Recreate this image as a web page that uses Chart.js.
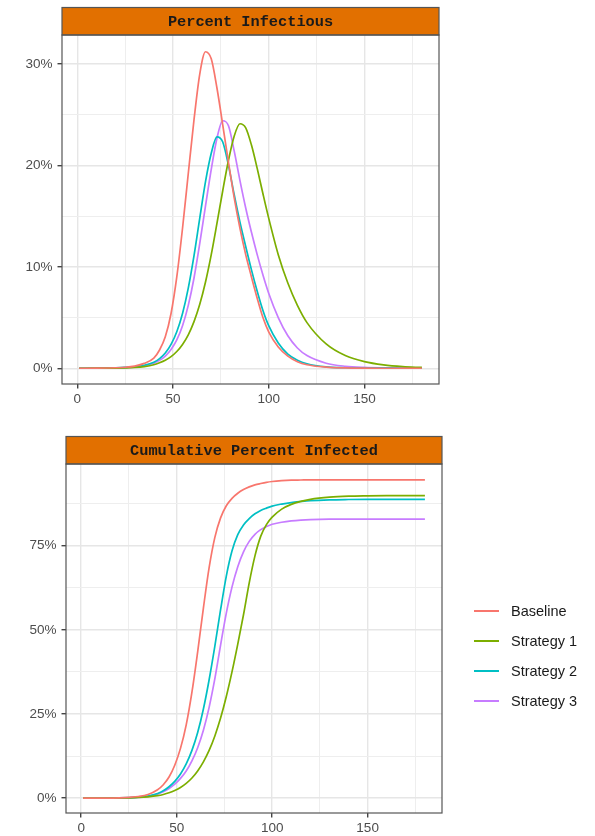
<!DOCTYPE html>
<html>
<head>
<meta charset="utf-8">
<script src="https://cdn.jsdelivr.net/npm/chart.js@4.4.1/dist/chart.umd.min.js"></script>
<style>
  body { margin: 0; background: #fff; width: 595px; height: 836px; position: relative; overflow: hidden; }
  canvas { position: absolute; left: 0; }
  #topChart { top: 0; }
  #bottomChart { top: 420px; }
  #legend { position: absolute; left: 474px; top: 596px; font: 14.5px "Liberation Sans", Arial, sans-serif; color: #1a1a1a; }
  .item { height: 30px; display: flex; align-items: center; }
  .swatch { width: 25px; height: 2px; margin-right: 12px; }
</style>
</head>
<body>
<canvas id="topChart" width="595" height="420"></canvas>
<canvas id="bottomChart" width="595" height="416"></canvas>
<div id="legend"></div>
<script>
// days
const days = [1, 10, 20, 25, 30, 35, 40, 43, 46, 49, 52, 55, 58, 61, 64, 67, 70, 73, 76, 79,
              82, 85, 88, 91, 94, 97, 100, 105, 110, 115, 120, 130, 140, 150, 160, 170, 180];

const seriesNames = ['Baseline', 'Strategy 1', 'Strategy 2', 'Strategy 3'];
const seriesColors = ['#F8766D', '#7CAE00', '#00BFC4', '#C77CFF'];

// Percent infectious (%)
const infBaseline = [0, 0.01, 0.05, 0.1, 0.22, 0.48, 1.0, 1.8, 3.1, 5.4, 9.0, 13.8, 19.2, 24.5, 29.0, 31.2, 30.5, 27.6, 24.0, 20.3,
                     16.8, 13.8, 11.2, 9.0, 6.9, 5.0, 3.6, 2.1, 1.2, 0.65, 0.35, 0.12, 0.04, 0.01, 0, 0, 0];
const infStrat1 = [0, 0.005, 0.02, 0.04, 0.08, 0.17, 0.35, 0.55, 0.8, 1.15, 1.65, 2.35, 3.3, 4.6, 6.3, 8.5, 11.2, 14.3, 17.5, 20.5,
                   22.9, 24.1, 23.7, 22.0, 19.7, 17.2, 14.8, 11.2, 8.4, 6.2, 4.5, 2.4, 1.25, 0.65, 0.33, 0.16, 0.08];
const infStrat2 = [0, 0.01, 0.04, 0.08, 0.15, 0.3, 0.6, 0.95, 1.5, 2.35, 3.6, 5.4, 7.9, 11.1, 14.8, 18.4, 21.2, 22.8, 22.3, 20.0,
                   17.1, 14.4, 12.0, 9.7, 7.6, 5.7, 4.2, 2.5, 1.4, 0.8, 0.45, 0.14, 0.05, 0.02, 0.01, 0, 0];
const infStrat3 = [0, 0.01, 0.03, 0.06, 0.12, 0.25, 0.5, 0.78, 1.2, 1.85, 2.8, 4.2, 6.2, 8.9, 12.3, 16.0, 19.6, 22.7, 24.4, 23.9,
                   21.4, 18.5, 15.8, 13.4, 11.2, 9.2, 7.4, 5.0, 3.2, 2.0, 1.25, 0.5, 0.2, 0.08, 0.03, 0.01, 0];

// Cumulative percent infected (%)
const cumBaseline = [0, 0.02, 0.1, 0.25, 0.5, 1.1, 2.5, 4.0, 6.3, 9.8, 14.8, 21.8, 31.5, 43.5, 56.5, 68.5, 77.5, 83.3, 86.9, 89.1,
                     90.6, 91.7, 92.5, 93.1, 93.5, 93.85, 94.1, 94.35, 94.5, 94.55, 94.6, 94.6, 94.6, 94.6, 94.6, 94.6, 94.6];
const cumStrat1 = [0, 0.01, 0.05, 0.1, 0.2, 0.4, 0.75, 1.1, 1.6, 2.3, 3.2, 4.4, 6.0, 8.1, 10.8, 14.2, 18.5, 23.8, 30.2, 37.6,
                   45.8, 54.5, 64.0, 72.0, 77.8, 81.3, 83.5, 85.9, 87.3, 88.2, 88.8, 89.45, 89.75, 89.85, 89.9, 89.9, 89.9];
const cumStrat2 = [0, 0.02, 0.08, 0.15, 0.3, 0.65, 1.4, 2.2, 3.4, 5.0, 7.2, 10.2, 14.2, 19.5, 26.5, 35.2, 45.2, 56.0, 66.0, 73.5,
                   78.3, 81.2, 83.1, 84.5, 85.5, 86.2, 86.8, 87.4, 87.85, 88.15, 88.4, 88.65, 88.75, 88.8, 88.8, 88.8, 88.8];
const cumStrat3 = [0, 0.01, 0.05, 0.1, 0.25, 0.55, 1.2, 1.9, 2.9, 4.2, 5.9, 8.1, 11.1, 15.0, 20.2, 27.0, 35.5, 45.5, 55.0, 62.8,
                   68.8, 73.2, 76.3, 78.4, 79.8, 80.7, 81.4, 82.0, 82.4, 82.65, 82.8, 82.9, 82.9, 82.9, 82.9, 82.9, 82.9];

const xTicks = [0, 25, 50, 75, 100, 125, 150, 175];
const topYTicks = [0, 5, 10, 15, 20, 25, 30];
const bottomYTicks = [0, 12.5, 25, 37.5, 50, 62.5, 75, 87.5];

const tickFont = { family: '"Liberation Sans", Arial, sans-serif', size: 13.5 };

function toPoints(vals) {
  return days.map((d, i) => ({ x: d, y: vals[i] }));
}

function makeDatasets(list) {
  return list.map((vals, i) => ({
    label: seriesNames[i],
    data: toPoints(vals),
    borderColor: seriesColors[i],
    borderWidth: 1.7,
    pointRadius: 0,
    fill: false,
    cubicInterpolationMode: 'monotone'
  }));
}

// strip on top + box round the panel
const panelDecor = {
  id: 'panelDecor',
  afterDraw(chart, args, opts) {
    const { ctx, chartArea: a } = chart;
    const h = 27.5;
    ctx.save();
    ctx.fillStyle = '#E27000';
    ctx.fillRect(a.left, a.top - h, a.right - a.left, h);
    ctx.strokeStyle = '#555';
    ctx.lineWidth = 1.2;
    ctx.strokeRect(a.left, a.top - h, a.right - a.left, h);
    ctx.strokeRect(a.left, a.top, a.right - a.left, a.bottom - a.top);
    ctx.fillStyle = '#1a1a1a';
    ctx.font = 'bold 15.3px "Liberation Mono", "Courier New", monospace';
    ctx.textAlign = 'center';
    ctx.textBaseline = 'middle';
    ctx.fillText(opts.text, (a.left + a.right) / 2, a.top - h / 2 + 1);
    ctx.restore();
  }
};

function isMajor(v, step) {
  return Math.abs(v / step - Math.round(v / step)) < 1e-6;
}

function makeOptions(cfg) {
  return {
    responsive: false,
    animation: false,
    layout: { padding: { top: cfg.padTop, right: cfg.padRight, left: 0, bottom: 0 } },
    plugins: {
      legend: { display: false },
      tooltip: { enabled: false },
      panelDecor: { text: cfg.title }
    },
    scales: {
      x: {
        type: 'linear',
        min: -7.95,
        max: 188.95,
        afterBuildTicks: s => { s.ticks = xTicks.map(v => ({ value: v })); },
        afterFit: s => { s.height = cfg.xHeight; },
        border: { display: false },
        grid: {
          color: c => isMajor(c.tick.value, 50) ? '#E6E6E6' : '#EEEEEE',
          lineWidth: c => isMajor(c.tick.value, 50) ? 1.4 : 1,
          tickColor: c => isMajor(c.tick.value, 50) ? '#444' : 'rgba(0,0,0,0)',
          tickLength: 4.5
        },
        ticks: {
          autoSkip: false,
          maxRotation: 0,
          padding: 3,
          color: '#4D4D4D',
          font: tickFont,
          callback: v => isMajor(v, 50) ? String(v) : ''
        }
      },
      y: {
        type: 'linear',
        min: cfg.yMin,
        max: cfg.yMax,
        afterBuildTicks: s => { s.ticks = cfg.yTicks.map(v => ({ value: v })); },
        afterFit: s => { s.width = cfg.yWidth; },
        border: { display: false },
        grid: {
          color: c => isMajor(c.tick.value, cfg.yStep) ? '#E6E6E6' : '#EEEEEE',
          lineWidth: c => isMajor(c.tick.value, cfg.yStep) ? 1.4 : 1,
          tickColor: c => isMajor(c.tick.value, cfg.yStep) ? '#444' : 'rgba(0,0,0,0)',
          tickLength: 4.5
        },
        ticks: {
          autoSkip: false,
          padding: 5,
          color: '#4D4D4D',
          font: tickFont,
          callback: v => isMajor(v, cfg.yStep) ? v + '%' : ''
        }
      }
    }
  };
}

new Chart(document.getElementById('topChart'), {
  type: 'line',
  data: { datasets: makeDatasets([infBaseline, infStrat1, infStrat2, infStrat3]) },
  options: makeOptions({
    title: 'Percent Infectious',
    padTop: 35, padRight: 156, xHeight: 36, yWidth: 62,
    yMin: -1.55, yMax: 32.85, yTicks: topYTicks, yStep: 10
  }),
  plugins: [panelDecor]
});

new Chart(document.getElementById('bottomChart'), {
  type: 'line',
  data: { datasets: makeDatasets([cumBaseline, cumStrat1, cumStrat2, cumStrat3]) },
  options: makeOptions({
    title: 'Cumulative Percent Infected',
    padTop: 44, padRight: 153, xHeight: 23, yWidth: 66,
    yMin: -4.4, yMax: 99.3, yTicks: bottomYTicks, yStep: 25
  }),
  plugins: [panelDecor]
});

// legend
const legend = document.getElementById('legend');
seriesNames.forEach((name, i) => {
  const row = document.createElement('div');
  row.className = 'item';
  const sw = document.createElement('span');
  sw.className = 'swatch';
  sw.style.background = seriesColors[i];
  const txt = document.createElement('span');
  txt.textContent = name;
  row.appendChild(sw);
  row.appendChild(txt);
  legend.appendChild(row);
});
</script>
</body>
</html>
